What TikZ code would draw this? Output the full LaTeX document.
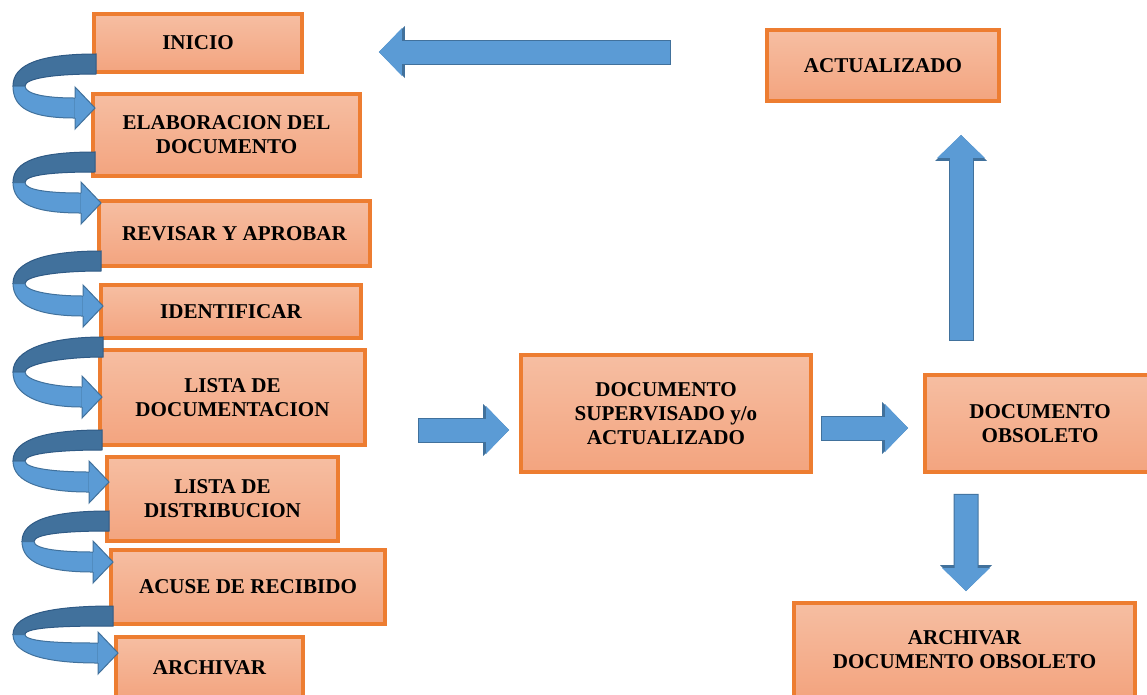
\documentclass[tikz,border=0pt]{standalone}
\usepackage{fontspec}
\setmainfont{Liberation Serif}
\usetikzlibrary{calc,arrows.meta}

\definecolor{naranja}{HTML}{ED7D31}
\definecolor{salmonA}{HTML}{F6BEA2}
\definecolor{salmonB}{HTML}{F3A47F}
\definecolor{azul}{HTML}{5B9BD5}
\definecolor{azuloscuro}{HTML}{41719C}
\definecolor{azulborde}{HTML}{2F5A85}

\begin{document}
\begin{tikzpicture}[x=0.02cm, y=-0.02cm,
  caja/.style={draw=naranja, line width=0.08cm, top color=salmonA, bottom color=salmonB, inner sep=0pt, align=center, font=\bfseries\fontsize{12}{13.7}\selectfont},
  flecha/.style={draw=azul, line width=0.46cm, -{Triangle[length=0.46cm, width=0.96cm, line width=0pt]},
    preaction={draw=azuloscuro, line width=0.5cm, shorten <=-0.02cm, -{Triangle[length=0.52cm, width=1.04cm, line width=0pt]}}},
  bandasup/.style={fill=azuloscuro, draw=azulborde, line width=0.02cm},
  bandainf/.style={fill=azul, draw=azuloscuro, line width=0.02cm}]
\useasboundingbox (0,0) rectangle (1147,694);
\clip (0,0) rectangle (1147,694);

%Cajas
\node[caja, minimum width=4.16cm, minimum height=1.16cm] (ini) at (198,43) {INICIO};
\node[caja, minimum width=5.34cm, minimum height=1.64cm] (ela) at (226.5,135) {ELABORACION DEL\\DOCUMENTO};
\node[caja, minimum width=5.42cm, minimum height=1.30cm] (rev) at (234.5,233.5) {REVISAR Y APROBAR};
\node[caja, minimum width=5.20cm, minimum height=1.06cm] (ide) at (231,311.5) {IDENTIFICAR};
\node[caja, minimum width=5.30cm, minimum height=1.90cm] (ldoc) at (232.5,397.5) {LISTA DE\\DOCUMENTACION};
\node[caja, minimum width=4.62cm, minimum height=1.68cm] (ldis) at (222.5,499) {LISTA DE\\DISTRIBUCION};
\node[caja, minimum width=5.48cm, minimum height=1.48cm] (acu) at (248,587) {ACUSE DE RECIBIDO};
\node[caja, minimum width=3.74cm, minimum height=1.24cm] (arch) at (209.5,668) {ARCHIVAR};
\node[caja, minimum width=5.80cm, minimum height=2.34cm] (sup) at (666,413.5) {DOCUMENTO\\SUPERVISADO y/o\\ACTUALIZADO};
\node[caja, minimum width=4.60cm, minimum height=1.94cm] (obs) at (1040,423.5) {DOCUMENTO\\OBSOLETO};
\node[caja, minimum width=4.64cm, minimum height=1.42cm] (act) at (883,65.5) {ACTUALIZADO};
\node[caja, minimum width=6.82cm, minimum height=1.88cm] (archobs) at (964.5,650) {ARCHIVAR\\DOCUMENTO OBSOLETO};

%Flechas curvas
\foreach \a/\b/\sy/\ty/\lx in {ini/ela/-10/16/13, ela/rev/-16/4/13, rev/ide/-7/23/13, ide/ldoc/7/49/13, ldoc/ldis/-7/27/13, ldis/acu/-22/14/22, acu/arch/-10/18/13}{
  \coordinate (s) at ($(\a.south west)+(4,\sy)$);
  \coordinate (t) at ($(\b.north west)+(4,\ty)$);
  \coordinate (m) at ($(s)!0.5!(t)$);
  \coordinate (lx) at (\lx,0);
  \coordinate (lo) at (lx |- m);
  \coordinate (li) at ($(lo)+(12,0)$);
  \coordinate (h) at ($(t)+(-20,0)$);
  \filldraw[bandasup] ($(s)+(0,-10)$) .. controls +(-55,0) and +(0,-22) .. (lo) -- (li) .. controls +(0,-8) and +(-40,0) .. ($(s)+(0,10)$) -- cycle;
  \filldraw[bandainf] (lo) .. controls +(0,22) and +(-45,0) .. ($(h)+(0,10)$) -- ($(h)+(0,-10)$) .. controls +(-30,0) and +(0,8) .. (li) -- cycle;
  \fill[azul] ($(h)+(0,-21)$) -- (t) -- ($(h)+(0,21)$) -- cycle;
  \draw[azuloscuro, line width=0.02cm] ($(h)+(0,-10)$) -- ($(h)+(0,-21)$) -- (t) -- ($(h)+(0,21)$) -- ($(h)+(0,10)$);
}

%Flechas rectas
\draw[flecha] ($(act.west)+(-95,-13.5)$) -- ($(ini.east)+(75,9)$);
\draw[flecha] ($(ldoc.east)+(52,32.5)$) -- ($(sup.west)+(-10,16.5)$);
\draw[flecha] ($(sup.east)+(9,14.5)$) -- ($(obs.west)+(-15,4.5)$);
\draw[flecha] ($(obs.north)+(-79,-33)$) -- ($(act.south)+(78,32)$);
\draw[flecha] ($(obs.south)+(-74,21)$) -- ($(archobs.north)+(1.5,-10)$);

\end{tikzpicture}
\end{document}
